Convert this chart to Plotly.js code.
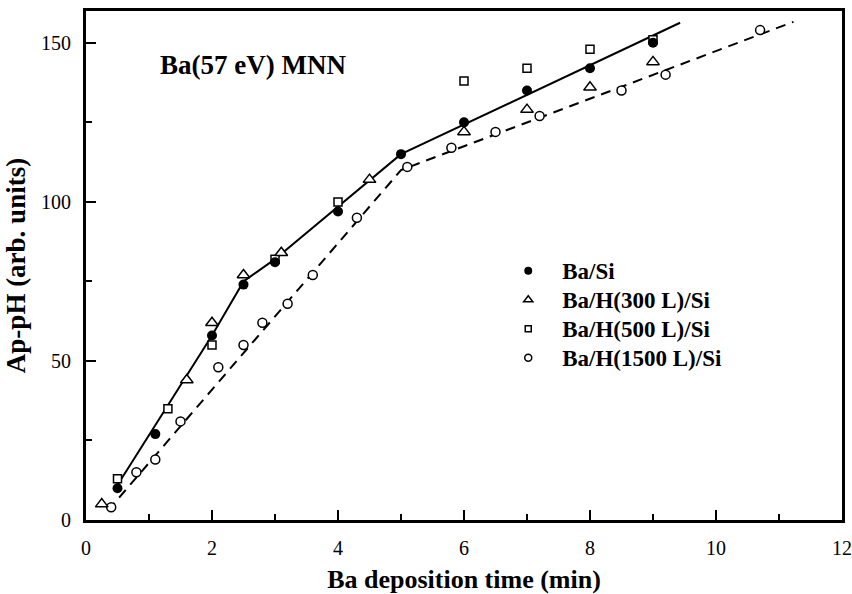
<!DOCTYPE html>
<html>
<head>
<meta charset="utf-8">
<script src="https://cdn.plot.ly/plotly-3.0.1.min.js"></script>
<style>html,body{margin:0;padding:0;background:#fff;}#chart{width:852px;height:594px;}</style>
</head>
<body>
<div id="chart"></div>
<script>
// Ba/Si (filled circles)
const baSiX = [0.5, 1.1, 2.0, 2.5, 3.0, 4.0, 5.0, 6.0, 7.0, 8.0, 9.0];
const baSiY = [10, 27, 58, 74, 81, 97, 115, 125, 135, 142, 150];
// Ba/H(300 L)/Si (open triangles)
const h300X = [0.25, 1.6, 2.0, 2.5, 3.1, 4.5, 6.0, 7.0, 8.0, 9.0];
const h300Y = [5, 44, 62, 77, 84, 107, 122, 129, 136, 144];
// Ba/H(500 L)/Si (open squares)
const h500X = [0.5, 1.3, 2.0, 3.0, 4.0, 6.0, 7.0, 8.0, 9.0];
const h500Y = [13, 35, 55, 82, 100, 138, 142, 148, 151];
// Ba/H(1500 L)/Si (open circles)
const h1500X = [0.4, 0.8, 1.1, 1.5, 2.1, 2.5, 2.8, 3.2, 3.6, 4.3, 5.1, 5.8, 6.5, 7.2, 8.5, 9.2, 10.7];
const h1500Y = [4, 15, 19, 31, 48, 55, 62, 68, 77, 95, 111, 117, 122, 127, 135, 140, 154];
// guide lines
const solidX = [0.5, 2.0, 2.5, 3.0, 5.0, 9.43];
const solidY = [11, 58, 75, 82, 115, 156.3];
const dashedX = [0.35, 5.0, 11.23];
const dashedY = [3, 110, 156.6];

const names = ['Ba/Si', 'Ba/H(300 L)/Si', 'Ba/H(500 L)/Si', 'Ba/H(1500 L)/Si'];
const serif = 'Liberation Serif, Times New Roman, serif';
const legendLabel = (s) => '<span style="font-size:23px">' + s + '</span>';

const openMarker = (sym, size) => ({symbol: sym, size: size, color: 'white', line: {color: 'black', width: 1.5}});

const traces = [
  {x: solidX, y: solidY, mode: 'lines', line: {color: 'black', width: 2}, showlegend: false, hoverinfo: 'skip'},
  {x: dashedX, y: dashedY, mode: 'lines', line: {color: 'black', width: 2, dash: '10px,7px'}, showlegend: false, hoverinfo: 'skip'},
  {x: h1500X, y: h1500Y, mode: 'markers', marker: openMarker('circle', 9), showlegend: false},
  {x: h500X, y: h500Y, mode: 'markers', marker: openMarker('square', 8), showlegend: false},
  {x: h300X, y: h300Y, mode: 'markers', marker: openMarker('triangle-up', 11), showlegend: false},
  {x: baSiX, y: baSiY, mode: 'markers', marker: {symbol: 'circle', size: 10, color: 'black'}, showlegend: false},
  // legend entries
  {x: [null], y: [null], mode: 'markers', name: legendLabel(names[0]), marker: {symbol: 'circle', size: 8, color: 'black'}},
  {x: [null], y: [null], mode: 'markers', name: legendLabel(names[1]), marker: openMarker('triangle-up', 8)},
  {x: [null], y: [null], mode: 'markers', name: legendLabel(names[2]), marker: openMarker('square', 6)},
  {x: [null], y: [null], mode: 'markers', name: legendLabel(names[3]), marker: openMarker('circle', 7)}
];

const axisCommon = {
  showgrid: false, zeroline: false, showline: true, mirror: true,
  linecolor: 'black', linewidth: 3,
  ticks: 'inside', ticklen: 10, tickwidth: 2, tickcolor: 'black',
  tickfont: {family: serif, size: 20, color: 'black'},
  minor: {ticks: 'inside', ticklen: 6, tickwidth: 2, tickcolor: 'black', showgrid: false}
};

const layout = {
  width: 852, height: 594,
  margin: {l: 86, r: 10, t: 11, b: 74},
  paper_bgcolor: 'white', plot_bgcolor: 'white',
  showlegend: true,
  legend: {
    x: 0.54, xanchor: 'left', y: 0.528, yanchor: 'top',
    bgcolor: 'rgba(0,0,0,0)', borderwidth: 0,
    font: {family: serif, size: 20, color: 'black', weight: 'bold'},
    itemwidth: 58, traceorder: 'normal'
  },
  xaxis: Object.assign({}, axisCommon, {
    range: [0, 12], dtick: 2, tick0: 0,
    minor: Object.assign({}, axisCommon.minor, {dtick: 1}),
    ticklabelstandoff: 8,
    title: {text: 'Ba deposition time (min)', font: {family: serif, size: 26, color: 'black', weight: 'bold'}, standoff: 12}
  }),
  yaxis: Object.assign({}, axisCommon, {
    range: [0, 160], dtick: 50, tick0: 0,
    minor: Object.assign({}, axisCommon.minor, {dtick: 25}),
    ticklabelstandoff: 8,
    title: {text: 'Ap-pH (arb. units)', font: {family: serif, size: 27, color: 'black', weight: 'bold'}, standoff: 8}
  }),
  annotations: [{
    text: 'Ba(57 eV) MNN', xref: 'paper', yref: 'paper', x: 0.095, y: 0.894,
    xanchor: 'left', yanchor: 'middle', showarrow: false,
    font: {family: serif, size: 27, color: 'black', weight: 'bold'}
  }]
};

Plotly.newPlot('chart', traces, layout, {staticPlot: true, displayModeBar: false});
</script>
</body>
</html>
